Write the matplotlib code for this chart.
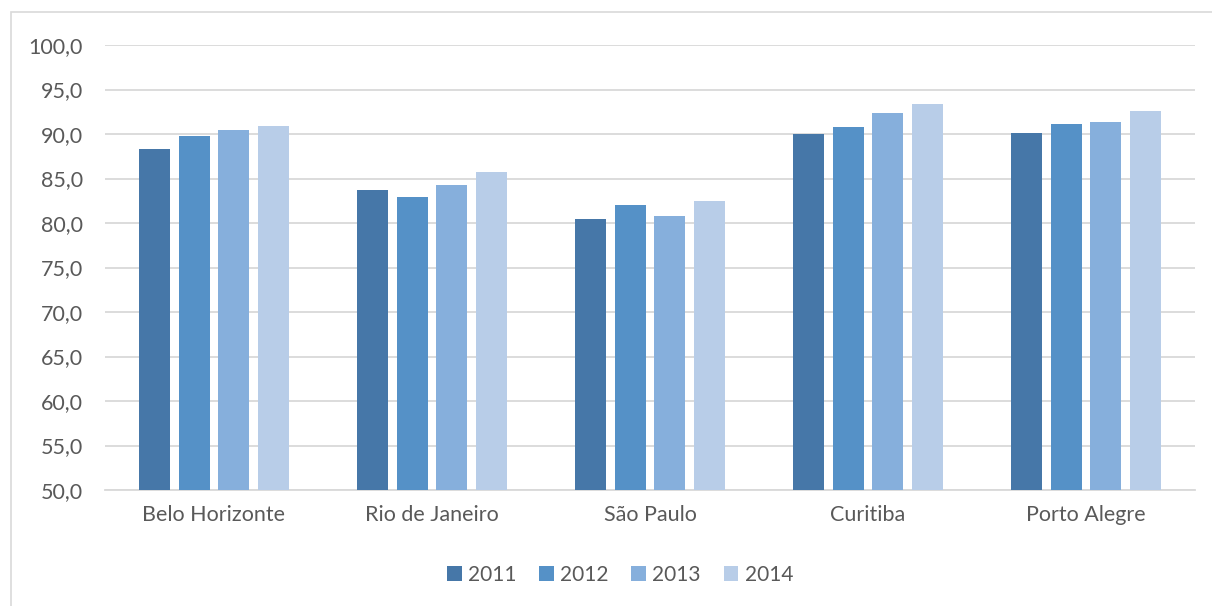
import matplotlib
matplotlib.use("Agg")
import matplotlib.pyplot as plt
import numpy as np
from matplotlib.patches import Rectangle

categories = ["Belo Horizonte", "Rio de Janeiro", "São Paulo", "Curitiba", "Porto Alegre"]
years = ["2011", "2012", "2013", "2014"]
v2011 = [88.3, 83.7, 80.4, 90.0, 90.1]
v2012 = [89.8, 82.9, 82.0, 90.8, 91.1]
v2013 = [90.5, 84.3, 80.8, 92.4, 91.4]
v2014 = [90.9, 85.7, 82.5, 93.4, 92.6]
colors = ["#4677A8", "#5591C7", "#86AFDC", "#B8CDE8"]
yticks = [50, 55, 60, 65, 70, 75, 80, 85, 90, 95, 100]

plt.rcParams['font.family'] = ['Lato', 'DejaVu Sans']

fig = plt.figure(figsize=(12.12, 6.06), dpi=100)
ax = fig.add_axes([105/1212, 1 - 490/606, 1090/1212, 445/606])

x = np.arange(len(categories))
width = 0.142
step = 0.183
series = [v2011, v2012, v2013, v2014]
for i, (vals, c, yr) in enumerate(zip(series, colors, years)):
    ax.bar(x + (i - 1.5) * step, np.array(vals) - 50, bottom=50, width=width,
           color=c, label=yr, zorder=3)

ax.set_xlim(-0.5, len(categories) - 0.5)
ax.set_ylim(50, 100)
ax.set_yticks(yticks)
ax.set_yticklabels([f"{t:.1f}".replace(".", ",") for t in yticks])
ax.set_xticks(x)
ax.set_xticklabels(categories)
ax.yaxis.grid(True, color="#D9D9D9", linewidth=1.3, zorder=0)
ax.set_axisbelow(True)
for s in ["top", "right", "left"]:
    ax.spines[s].set_visible(False)
ax.spines["bottom"].set_color("#D9D9D9")
ax.spines["bottom"].set_linewidth(1.3)
ax.tick_params(axis="both", length=0, labelsize=15.5, colors="#595959")
ax.tick_params(axis="y", pad=16)
ax.tick_params(axis="x", pad=11)

leg = fig.legend(loc="center", bbox_to_anchor=(620/1212, 1 - 575/606), ncol=4,
                 frameon=False, fontsize=15, handlelength=0.7, handleheight=0.7,
                 handletextpad=0.3, columnspacing=1.1)
for t in leg.get_texts():
    t.set_color("#595959")

fig.patches.append(Rectangle((11/1212, -0.01), 1.2, 1 - 12/606 + 0.01,
                             transform=fig.transFigure, fill=False,
                             edgecolor="#D9D9D9", linewidth=1.2))

fig.savefig("out.png", dpi=100)
